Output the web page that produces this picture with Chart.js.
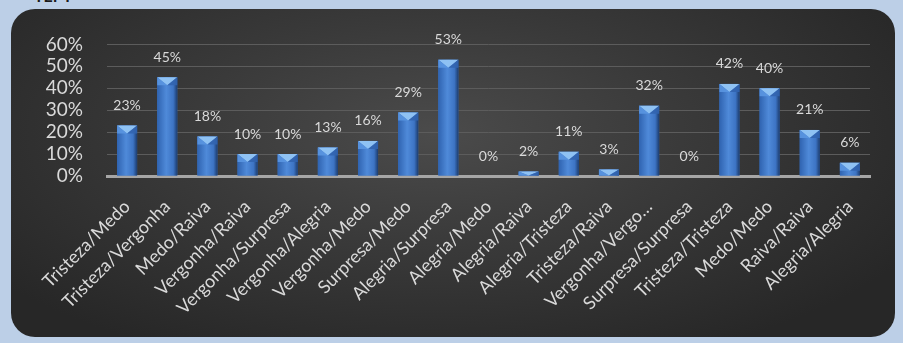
<!DOCTYPE html>
<html>
<head>
<meta charset="utf-8">
<script src="https://cdn.jsdelivr.net/npm/chart.js@4.4.1/dist/chart.umd.min.js"></script>
<style>
  html, body { margin: 0; padding: 0; }
  body { width: 903px; height: 343px; background: #bccfe7; position: relative; overflow: hidden; font-family: 'Lato', sans-serif; }
  #title { position: absolute; left: 34px; top: -14px; font: bold 16px 'Lato', sans-serif; color: #1a1a1a; }
  #panel {
    position: absolute; left: 11px; top: 9px; width: 884px; height: 328px;
    border-radius: 24px;
    background: radial-gradient(ellipse 62% 75% at 48% 38%, #4b4b4b 0%, #3a3a3a 45%, #272727 100%);
  }
  #chart { position: absolute; left: 0; top: 0; }
</style>
</head>
<body>
<div id="title">TEPT</div>
<div id="panel"><canvas id="chart" width="884" height="328"></canvas></div>
<script>
// categories and percentages
const categories = [
    'Tristeza/Medo', 'Tristeza/Vergonha', 'Medo/Raiva', 'Vergonha/Raiva',
    'Vergonha/Surpresa', 'Vergonha/Alegria', 'Vergonha/Medo', 'Surpresa/Medo',
    'Alegria/Surpresa', 'Alegria/Medo', 'Alegria/Raiva', 'Alegria/Tristeza',
    'Tristeza/Raiva', 'Vergonha/Vergo…', 'Surpresa/Surpresa', 'Tristeza/Tristeza',
    'Medo/Medo', 'Raiva/Raiva', 'Alegria/Alegria'
];
const percentages = [23, 45, 18, 10, 10, 13, 16, 29, 53, 0, 2, 11, 3, 32, 0, 42, 40, 21, 6];
const yTicks = [0, 10, 20, 30, 40, 50, 60];

const TEXT = '#d9d9d9';

// ── bevelled bar look: gradient body + light triangle on top ─────
const bevelPlugin = {
    id: 'bevel',
    afterDatasetsDraw(chart) {
        const ctx = chart.ctx;
        const meta = chart.getDatasetMeta(0);
        meta.data.forEach(bar => {
            const w = bar.width, left = bar.x - w / 2, right = bar.x + w / 2;
            const top = bar.y, base = bar.base;
            const h = base - top;
            if (h < 0.5) return;
            ctx.save();
            const g = ctx.createLinearGradient(left, 0, right, 0);
            g.addColorStop(0, '#2f63b0');
            g.addColorStop(0.45, '#4f8ad9');
            g.addColorStop(0.8, '#3d74c4');
            g.addColorStop(1, '#1c3c6e');
            ctx.fillStyle = g;
            ctx.fillRect(left, top, w, h);
            // bevel
            const d = Math.min(8, h);
            ctx.beginPath();
            ctx.moveTo(left, top);
            ctx.lineTo(right, top);
            ctx.lineTo(bar.x, top + d);
            ctx.closePath();
            ctx.fillStyle = '#8fc2f3';
            ctx.fill();
            ctx.beginPath();
            ctx.moveTo(left, top);
            ctx.lineTo(bar.x, top + d);
            ctx.lineTo(left, top + d);
            ctx.closePath();
            ctx.fillStyle = 'rgba(90,150,225,0.9)';
            ctx.fill();
            ctx.beginPath();
            ctx.moveTo(right, top);
            ctx.lineTo(bar.x, top + d);
            ctx.lineTo(right, top + d);
            ctx.closePath();
            ctx.fillStyle = 'rgba(50,100,175,0.9)';
            ctx.fill();
            ctx.restore();
        });
    }
};

// ── value labels above each bar ─────────────────────────────────
const valueLabels = {
    id: 'valueLabels',
    afterDatasetsDraw(chart) {
        const ctx = chart.ctx;
        const meta = chart.getDatasetMeta(0);
        ctx.save();
        ctx.font = "14px 'Lato', sans-serif";
        ctx.fillStyle = TEXT;
        ctx.textAlign = 'center';
        ctx.textBaseline = 'middle';
        meta.data.forEach((bar, i) => {
            ctx.fillText(percentages[i] + '%', bar.x, bar.y - 20);
        });
        ctx.restore();
    }
};

new Chart(document.getElementById('chart'), {
    type: 'bar',
    data: {
        labels: categories,
        datasets: [{
            data: percentages,
            backgroundColor: '#3d74c4',
            borderWidth: 0,
            barPercentage: 0.5,
            categoryPercentage: 1.0,
        }]
    },
    plugins: [bevelPlugin, valueLabels],
    options: {
        responsive: false,
        animation: false,
        devicePixelRatio: 1,
        layout: { padding: { left: 0, right: 25, top: 30, bottom: 0 } },
        plugins: { legend: { display: false }, tooltip: { enabled: false } },
        scales: {
            x: {
                grid: { display: false, drawTicks: false },
                border: { color: '#a6a6a6', width: 3 },
                ticks: {
                    color: TEXT,
                    font: { family: 'Lato', size: 18 },
                    minRotation: 45,
                    maxRotation: 45,
                    autoSkip: false,
                    padding: 20,
                },
                afterFit: s => { s.height = 161; }
            },
            y: {
                min: 0,
                max: 60,
                afterBuildTicks: s => { s.ticks = yTicks.map(v => ({ value: v })); },
                grid: { color: '#5c5c5c', lineWidth: 1, drawTicks: false },
                border: { display: false },
                ticks: {
                    color: TEXT,
                    font: { family: 'Lato', size: 19 },
                    padding: 24,
                    autoSkip: false,
                    callback: v => v + '%'
                },
                afterFit: s => { s.width = 96; }
            }
        }
    }
});
</script>
</body>
</html>
